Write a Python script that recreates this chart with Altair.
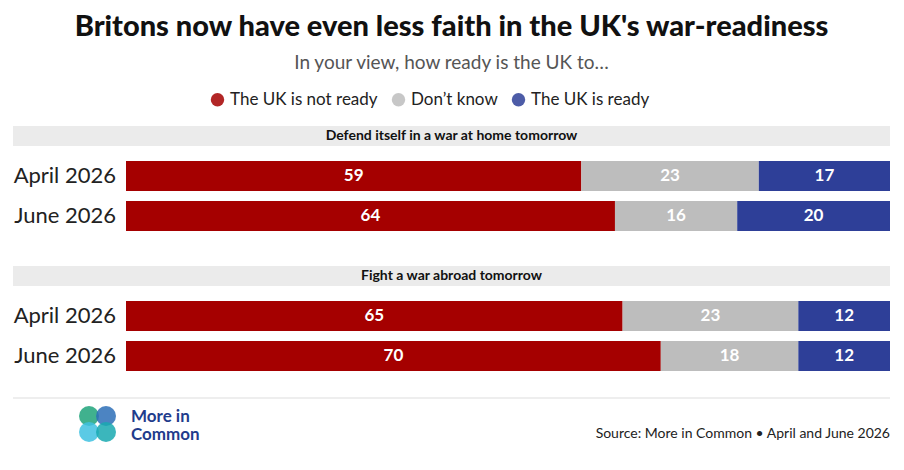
import altair as alt
import pandas as pd

questions = ["Defend itself in a war at home tomorrow", "Fight a war abroad tomorrow"]
waves = ["April 2026", "June 2026"]
answers = ["The UK is not ready", "Don’t know", "The UK is ready"]
colors = ["#A50000", "#BDBDBD", "#2E3F98"]
# [question][wave] -> not ready, don't know, ready
values = [[[59, 23, 17], [64, 16, 20]],
          [[65, 23, 12], [70, 18, 12]]]

FONT = "Lato"
W = 877

def panel(qi):
    rows = []
    for wi, w in enumerate(waves):
        for ai, a in enumerate(answers):
            rows.append({"Wave": w, "Answer": a, "Order": ai, "Value": values[qi][wi][ai]})
    df = pd.DataFrame(rows)
    ydom = ["header"] + waves
    y = alt.Y("Wave:N", scale=alt.Scale(domain=ydom), axis=None)
    base = alt.Chart(df).transform_stack(
        stack="Value", groupby=["Wave"], as_=["x0", "x1"], sort=[alt.SortField("Order")], offset="normalize"
    ).transform_calculate(mid="(datum.x0 + datum.x1) / 2")
    xs = alt.Scale(domain=[0, 1], range=[113, W])
    bars = base.mark_bar(height=30).encode(
        x=alt.X("x0:Q", scale=xs, axis=None), x2="x1:Q", y=y,
        color=alt.Color("Answer:N", scale=alt.Scale(domain=answers, range=colors),
                        legend=alt.Legend(title=None, orient="none", legendX=196, legendY=-25,
                                          direction="horizontal",
                                          symbolType="circle", symbolSize=180, labelFontSize=17,
                                          labelFont=FONT, labelColor="#222", columnPadding=12,
                                          symbolOpacity=1)))
    labels = base.mark_text(color="white", fontWeight="bold", fontSize=17, font=FONT).encode(
        x=alt.X("mid:Q", scale=xs), y=y, text="Value:Q")
    hdr = pd.DataFrame({"Wave": ["header"], "t": [questions[qi]]})
    head = alt.Chart(hdr).mark_bar(height=20, color="#EBEBEB").encode(
        x=alt.value(0), x2=alt.value(W), y=y)
    headt = alt.Chart(hdr).mark_text(fontWeight="bold", fontSize=14, font=FONT, color="#111").encode(
        x=alt.value((W) / 2), y=y, text="t:N")
    wl = pd.DataFrame({"Wave": waves})
    rowl = alt.Chart(wl).mark_text(align="right", fontSize=22, font=FONT, color="#222").encode(
        x=alt.value(103), y=y, text="Wave:N")
    return alt.layer(head, headt, bars, labels, rowl).properties(width=W, height=120)

one = pd.DataFrame({"a": [0]})
rule = alt.Chart(one).mark_rule(color="#DDDDDD").encode(x=alt.value(0), x2=alt.value(W), y=alt.value(2))
src = alt.Chart(one).mark_text(align="right", fontSize=14, font=FONT, color="#222").encode(
    x=alt.value(W), y=alt.value(38), text=alt.value("Source: More in Common • April and June 2026"))
logo_pts = pd.DataFrame({"cx": [76, 93, 76, 93], "cy": [20, 20, 36, 36],
                         "c": ["#1FA37A", "#2D6FB7", "#3EC1E0", "#19A9B0"]})
logo = alt.Chart(logo_pts).mark_circle(size=400, opacity=0.85).encode(
    x=alt.X("cx:Q", scale=alt.Scale(domain=[0, W], range=[0, W]), axis=None),
    y=alt.Y("cy:Q", scale=alt.Scale(domain=[0, 55], range=[0, 55]), axis=None),
    color=alt.Color("c:N", scale=None))
lt = pd.DataFrame({"t": ["More in", "Common"], "yy": [21, 39]})
logot = alt.Chart(lt).mark_text(align="left", fontSize=17, fontWeight="bold", font=FONT, color="#1F3C8C").encode(
    x=alt.value(118), y=alt.Y("yy:Q", scale=alt.Scale(domain=[0, 55], range=[0, 55]), axis=None), text="t:N")
footer = alt.layer(rule, logo, logot, src).properties(width=W, height=50)

chart = alt.vconcat(panel(0), panel(1), footer, spacing=20).properties(
    title=alt.TitleParams("Britons now have even less faith in the UK's war-readiness",
                          subtitle="In your view, how ready is the UK to…",
                          fontSize=29, fontWeight=900, font=FONT, color="#111",
                          subtitleFontSize=19, subtitleFont=FONT, subtitleColor="#555",
                          subtitlePadding=12, anchor="middle", offset=18),
    padding={"left": 4, "right": 4, "top": 5, "bottom": 4}
).configure_view(stroke=None).configure_concat(spacing=20)

chart.save("out.html", embed_options={"renderer": "svg", "actions": False})
